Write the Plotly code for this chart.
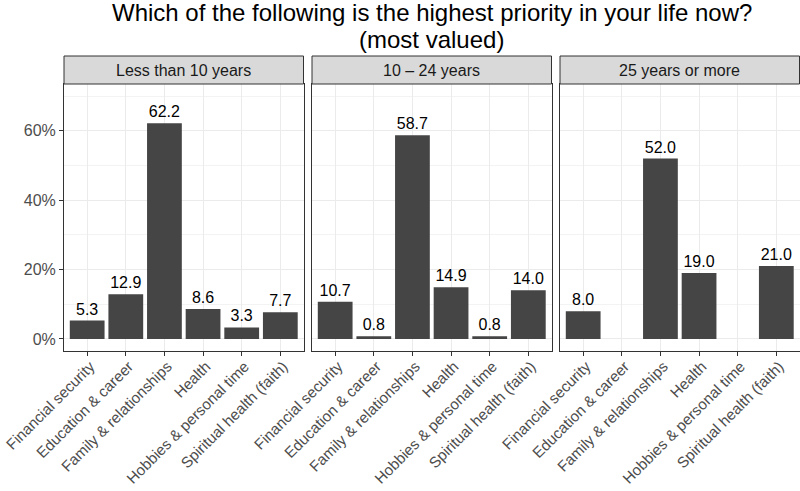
import plotly.graph_objects as go

categories = ["Financial security", "Education & career", "Family & relationships",
              "Health", "Hobbies & personal time", "Spiritual health (faith)"]
panels = ["Less than 10 years", "10 \u2013 24 years", "25 years or more"]
less_than_10 = [5.3, 12.9, 62.2, 8.6, 3.3, 7.7]
from_10_to_24 = [10.7, 0.8, 58.7, 14.9, 0.8, 14.0]
over_25 = [8.0, None, 52.0, 19.0, None, 21.0]
series = [less_than_10, from_10_to_24, over_25]
y_ticks = [0, 20, 40, 60]
y_tick_labels = ["0%", "20%", "40%", "60%"]
title_lines = ["Which of the following is the highest priority in your life now?", "(most valued)"]

W, H = 800, 491
font = "Liberation Sans, Arial, sans-serif"
panel_px = [(64, 303.5), (312, 551.5), (560, 799.5)]
plot_top, plot_bot = 84, 350.7
strip_top = 56

fig = go.Figure()
shapes = []
annotations = []
for i, (vals, name) in enumerate(zip(series, panels)):
    ax = "" if i == 0 else str(i + 1)
    fig.add_trace(go.Bar(
        x=categories, y=vals, xaxis="x" + ax, yaxis="y" + ax,
        marker=dict(color="#454545", line=dict(width=0)),
        texttemplate="%{y:.1f}", textposition="outside", cliponaxis=False,
        constraintext="none",
        textfont=dict(family=font, size=16, color="#000000"),
        showlegend=False, hoverinfo="skip"))
    x0, x1 = panel_px[i]
    dom = [x0 / W, min(x1 / W, 1.0)]
    xa = dict(domain=dom, anchor="y" + ax, type="category", range=[-0.6, 5.6],
              automargin=False,
              tickangle=-45, ticks="outside", ticklen=4, tickcolor="#333333",
              ticklabelstandoff=-4, ticklabelshift=3,
              tickfont=dict(family=font, size=15.2, color="#4D4D4D"),
              showgrid=True, gridcolor="#EBEBEB", gridwidth=1,
              showline=True, mirror=True, linecolor="#333333", linewidth=1,
              zeroline=False)
    ya = dict(domain=[(H - plot_bot) / H, (H - plot_top) / H], anchor="x" + ax,
              automargin=False,
              range=[-3.4, 73.5], tickmode="array", tickvals=y_ticks, ticktext=y_tick_labels,
              showgrid=True, gridcolor="#EBEBEB", gridwidth=1,
              minor=dict(dtick=10, tick0=0, showgrid=True, gridcolor="#F3F3F3", gridwidth=0.6),
              showline=True, mirror=True, linecolor="#333333", linewidth=1,
              zeroline=False)
    if i == 0:
        ya.update(ticks="outside", ticklen=4, tickcolor="#333333",
                  tickfont=dict(family=font, size=16, color="#4D4D4D"))
    else:
        ya.update(showticklabels=False, ticks="")
    fig.update_layout(**{"xaxis" + ax: xa, "yaxis" + ax: ya})
    shapes.append(dict(type="rect", xref="paper", yref="paper",
                       x0=dom[0], x1=dom[1], y0=(H - plot_top) / H, y1=(H - strip_top) / H,
                       fillcolor="#D9D9D9", line=dict(color="#333333", width=1)))
    annotations.append(dict(xref="paper", yref="paper", x=(dom[0] + dom[1]) / 2,
                            y=(H - (plot_top + strip_top) / 2) / H, text=name, showarrow=False,
                            xanchor="center", yanchor="middle",
                            font=dict(family=font, size=16, color="#1A1A1A")))

cx = (panel_px[0][0] + panel_px[2][1]) / 2 / W
annotations.append(dict(xref="paper", yref="paper", x=cx, y=1 - 13 / H, text=title_lines[0],
                        showarrow=False, xanchor="center", yanchor="middle",
                        font=dict(family=font, size=24, color="#000000")))
annotations.append(dict(xref="paper", yref="paper", x=cx, y=1 - 39 / H, text=title_lines[1],
                        showarrow=False, xanchor="center", yanchor="middle",
                        font=dict(family=font, size=24, color="#000000")))

fig.update_layout(width=W, height=H, margin=dict(l=0, r=0, t=0, b=0),
                  paper_bgcolor="white", plot_bgcolor="white",
                  bargap=0.1, shapes=shapes, annotations=annotations,
                  font=dict(family=font))
fig.write_html("out.html", config={"displayModeBar": False},
               post_script="document.body.style.margin='0';document.body.style.overflow='hidden';")
